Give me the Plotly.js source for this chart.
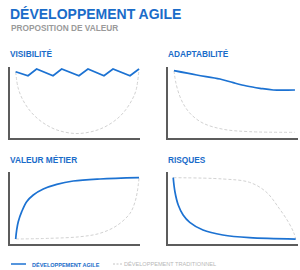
<!DOCTYPE html>
<html>
<head>
<meta charset="utf-8">
<script src="https://cdn.plot.ly/plotly-3.0.1.min.js"></script>
<style>html,body{margin:0;padding:0;background:#fff;}#chart{width:300px;height:270px;}</style>
</head>
<body>
<div id="chart"></div>
<script>
// ---- DATA (time 0-100, value 0-100) ----
const panelTitles = ["VISIBILITÉ", "ADAPTABILITÉ", "VALEUR MÉTIER", "RISQUES"];
const seriesNames = ["DÉVELOPPEMENT AGILE", "DÉVELOPPEMENT TRADITIONNEL"];

const visAgileX = [0, 10.0, 17.0, 30.3, 37.3, 51.3, 58.6, 71.6, 78.9, 92.7, 100];
const visAgileY = [93.4, 87.7, 97.2, 87.7, 97.2, 87.7, 97.2, 87.7, 97.2, 87.7, 97.2];
const visTradX = [0, 1.9, 5.1, 10.0, 15.7, 23.8, 34.3, 49.7, 65.1, 75.7, 83.8, 89.5, 94.3, 97.6, 100];
const visTradY = [93.4, 71.1, 56.1, 42.0, 30.6, 19.6, 10.8, 6.3, 10.6, 18.9, 29.4, 40.4, 53.7, 67.3, 97.2];

const adaAgileX = [0, 18.8, 38.0, 49.0, 60.1, 71.1, 82.1, 100];
const adaAgileY = [94.8, 88.7, 83.1, 77.9, 73.2, 70.0, 67.6, 67.6];
const adaTradX = [0, 1.65, 4.96, 9.1, 14.6, 24.2, 40.7, 62.8, 100];
const adaTradY = [94.8, 77.0, 58.2, 44.1, 32.4, 20.7, 12.3, 8.9, 8.0];

const valAgileX = [0, 0.8, 2.1, 4.9, 8.9, 14.3, 22.4, 33.3, 46.7, 68.4, 100];
const valAgileY = [6.9, 19.4, 31.0, 44.9, 58.8, 68.1, 76.4, 82.9, 87.5, 90.3, 92.1];
const valTradX = [0, 27.8, 52.1, 68.4, 81.9, 92.7, 96.8, 98.6, 100];
const valTradY = [6.9, 7.9, 10.1, 14.9, 25.4, 42.6, 58.8, 72.6, 91.3];

const risAgileX = [0, 1.4, 4.1, 8.1, 13.5, 24.3, 40.5, 62.2, 100];
const risAgileY = [92.1, 72.6, 54.2, 40.3, 30.1, 19.4, 12.5, 8.8, 6.9];
const risTradX = [0, 40.5, 62.2, 75.7, 86.5, 94.6, 98.6, 100];
const risTradY = [92.1, 90.3, 85.7, 72.6, 49.6, 28.8, 14.9, 6.9];

// ---- STYLE ----
const W = 300, H = 270;
const px = x => x / W;
const py = y => 1 - y / H;
const BLUE = "#1c72d2";
const BLUE_TXT = "#1a6cc9";
const GRAY = "#d2d2d2";
const AXIS = "#5c5c5c";
const FONT = "Liberation Sans, Arial, sans-serif";

const agileLine = {color: BLUE, width: 1.7};
const tradLine = {color: GRAY, width: 1, dash: "3px,2px"};

function tr(x, y, axis, line, shape) {
  return {x: x, y: y, xaxis: "x" + axis, yaxis: "y" + axis, type: "scatter", mode: "lines",
    line: Object.assign({shape: shape || "spline", smoothing: 1}, line), hoverinfo: "skip", showlegend: false};
}

const traces = [
  tr(visTradX, visTradY, "", tradLine),
  tr(visAgileX, visAgileY, "", agileLine, "linear"),
  tr(adaTradX, adaTradY, "2", tradLine),
  tr(adaAgileX, adaAgileY, "2", agileLine),
  tr(valTradX, valTradY, "3", tradLine),
  tr(valAgileX, valAgileY, "3", agileLine),
  tr(risTradX, risTradY, "4", tradLine),
  tr(risAgileX, risAgileY, "4", agileLine)
];

function xa(d0, d1, r0, r1, anchor) {
  return {domain: [px(d0), px(d1)], range: [r0, r1], showline: true, linecolor: AXIS, linewidth: 2,
    showgrid: false, zeroline: false, showticklabels: false, ticks: "", fixedrange: true, anchor: anchor};
}
function ya(d0, d1, anchor) {
  return {domain: [py(d1), py(d0)], range: [0, 100], showline: true, linecolor: AXIS, linewidth: 2,
    showgrid: false, zeroline: false, showticklabels: false, ticks: "", fixedrange: true, anchor: anchor};
}

function txt(s, x, y, size, color, bold) {
  return {text: bold ? "<b>" + s + "</b>" : s, x: px(x), y: py(y), xref: "paper", yref: "paper",
    xanchor: "left", yanchor: "middle", showarrow: false, borderpad: 0,
    font: {family: FONT, size: size, color: color}};
}

const layout = {
  width: W, height: H, margin: {l: 0, r: 0, t: 0, b: 0},
  paper_bgcolor: "#fff", plot_bgcolor: "#fff", showlegend: false,
  xaxis: xa(10, 140, -4.6, 100.8, "y"),   yaxis: ya(67, 138, "x"),
  xaxis2: xa(167.7, 298, -5.2, 102.5, "y2"), yaxis2: ya(67, 138, "x2"),
  xaxis3: xa(10, 140, -4.6, 100.8, "y3"),  yaxis3: ya(172, 244, "x3"),
  xaxis4: xa(167.7, 298, -4.5, 101.9, "y4"), yaxis4: ya(172, 244, "x4"),
  annotations: [
    txt("DÉVELOPPEMENT AGILE", 9, 14.5, 14, BLUE_TXT, true),
    txt("PROPOSITION DE VALEUR", 9.5, 28.5, 8.3, "#9a9a9a", true),
    txt(panelTitles[0], 8.5, 53.5, 8.3, BLUE_TXT, true),
    txt(panelTitles[1], 166.5, 53.5, 8.3, BLUE_TXT, true),
    txt(panelTitles[2], 8.5, 159.5, 8.3, BLUE_TXT, true),
    txt(panelTitles[3], 166.5, 159.5, 8.3, BLUE_TXT, true),
    txt(seriesNames[0], 31, 264, 5.5, BLUE_TXT, true),
    txt(seriesNames[1], 123, 264, 5.6, "#b8b8b8", false)
  ],
  shapes: [
    {type: "line", xref: "paper", yref: "paper", x0: px(11), x1: px(26), y0: py(264), y1: py(264), line: {color: BLUE, width: 1.5}},
    {type: "line", xref: "paper", yref: "paper", x0: px(113), x1: px(122.5), y0: py(264), y1: py(264), line: {color: "#c4c4c4", width: 1, dash: "2px,1.5px"}}
  ]
};

Plotly.newPlot("chart", traces, layout, {staticPlot: true, displayModeBar: false});
</script>
</body>
</html>
